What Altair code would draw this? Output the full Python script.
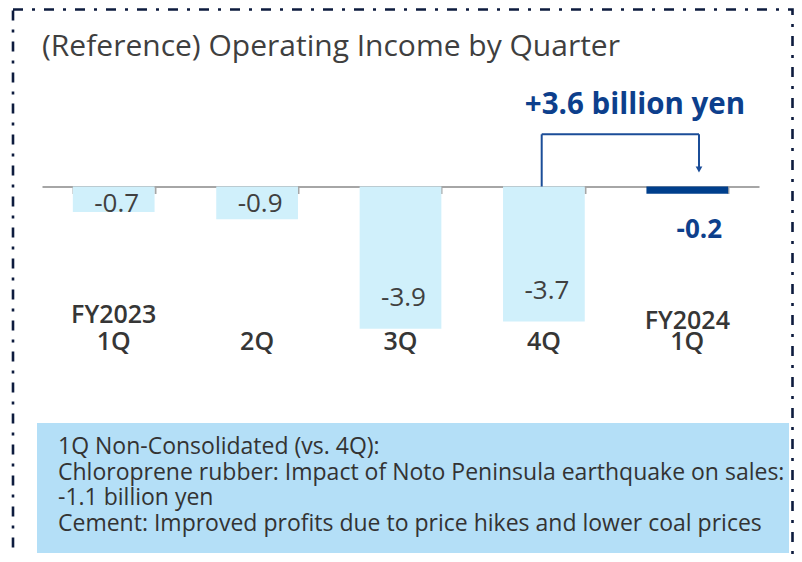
import altair as alt
import pandas as pd

# ---- data ----
keys = ["FY2023 1Q", "FY2023 2Q", "FY2023 3Q", "FY2023 4Q", "FY2024 1Q"]
quarters = ["1Q", "2Q", "3Q", "4Q", "1Q"]
fiscal_years = ["FY2023", "", "", "", "FY2024"]
values = [-0.7, -0.9, -3.9, -3.7, -0.2]
current_key = "FY2024 1Q"
title_text = "(Reference) Operating Income by Quarter"
change_text = "+3.6 billion yen"
note_lines = [
    "1Q Non-Consolidated (vs. 4Q):",
    "Chloroprene rubber: Impact of Noto Peninsula earthquake on sales:",
    "-1.1 billion yen",
    "Cement: Improved profits due to price hikes and lower coal prices",
]

# ---- styling / layout ----
FONT = "Open Sans"
W, H = 786, 546
AXIS_Y = 178.5
PX_PER_UNIT = 36.5
y_dom = [-(H - AXIS_Y) / PX_PER_UNIT, AXIS_Y / PX_PER_UNIT]
LIGHT = "#d0f0fb"
DARK = "#003f8c"
BLUE_TXT = "#0d3f8c"
GRAY_TXT = "#404040"
AXIS_C = "#a6a6a6"
BRACKET = "#1b4d98"
BOX = "#b4dff7"
BORDER = "#0d1b3e"

df = pd.DataFrame({
    "key": keys,
    "quarter": quarters,
    "fy": fiscal_years,
    "value": values,
    "label": [f"{v:.1f}" for v in values],
})

x_enc = alt.X(
    "key:N", sort=keys,
    scale=alt.Scale(range=[34, 751], paddingInner=0.43, paddingOuter=0.215),
    axis=alt.Axis(orient="bottom", offset=-(H - AXIS_Y), labels=False, title=None,
                  domainColor=AXIS_C, domainWidth=2, tickColor=AXIS_C, tickWidth=2,
                  tickSize=7, tickBand="extent", grid=False),
)
y_scale = alt.Scale(domain=y_dom, nice=False, zero=False)

base = alt.Chart(df)

bars = base.mark_bar().encode(
    x=x_enc,
    y=alt.Y("value:Q", scale=y_scale, axis=None),
    y2=alt.datum(0),
    color=alt.condition(alt.datum.key == current_key, alt.value(DARK), alt.value(LIGHT)),
)

light_labels = base.transform_filter(alt.datum.key != current_key).transform_calculate(
    ly="datum.value > -2 ? -0.49 : datum.value + 0.85"
).mark_text(font=FONT, fontSize=26, color=GRAY_TXT, baseline="middle", dx=3).encode(
    x=alt.X("key:N", sort=keys),
    y=alt.Y("ly:Q", scale=y_scale, axis=None),
    text="label:N",
)

dark_labels = base.transform_filter(alt.datum.key == current_key).transform_calculate(
    ly="datum.value - 1.0"
).mark_text(font=FONT, fontSize=26, fontWeight="bold", color=BLUE_TXT, baseline="middle", dx=12).encode(
    x=alt.X("key:N", sort=keys),
    y=alt.Y("ly:Q", scale=y_scale, axis=None),
    text="label:N",
)

quarter_labels = base.mark_text(font=FONT, fontSize=25, fontWeight=600, color="#363636",
                                baseline="middle").encode(
    x=alt.X("key:N", sort=keys),
    y=alt.value(334),
    text="quarter:N",
)

fy_labels = base.transform_filter(alt.datum.fy != "").transform_calculate(
    py="datum.key == '%s' ? 313 : 307" % current_key
).mark_text(font=FONT, fontSize=25, fontWeight=600, color="#363636", baseline="middle").encode(
    x=alt.X("key:N", sort=keys),
    y=alt.Y("py:Q", scale=None),
    text="fy:N",
)

one = alt.Chart(pd.DataFrame({"a": [0]}))

border = one.mark_rect(fill="white", fillOpacity=0, stroke=BORDER, strokeWidth=2.6,
                       strokeDash=[10, 9, 3, 9]).encode(
    x=alt.value(5), x2=alt.value(784.5), y=alt.value(1.5), y2=alt.value(H + 30)
)

title = one.mark_text(font=FONT, fontSize=30, color="#3f3f3f", align="left",
                      baseline="alphabetic").encode(
    x=alt.value(34), y=alt.value(48), text=alt.value(title_text)
)

change = one.mark_text(font=FONT, fontSize=29.5, fontWeight="bold", color=BLUE_TXT,
                       align="center", baseline="alphabetic").encode(
    x=alt.value(627), y=alt.value(106), text=alt.value(change_text)
)

br1 = one.mark_rule(color=BRACKET, strokeWidth=2).encode(
    x=alt.value(533.7), y=alt.value(126.3), y2=alt.value(AXIS_Y))
br2 = one.mark_rule(color=BRACKET, strokeWidth=2).encode(
    x=alt.value(533.7), x2=alt.value(691), y=alt.value(126.3))
br3 = one.mark_rule(color=BRACKET, strokeWidth=2).encode(
    x=alt.value(691), y=alt.value(126.3), y2=alt.value(159))
arrow = one.mark_point(shape="triangle-down", filled=True, size=45, color=BRACKET,
                       opacity=1).encode(x=alt.value(691), y=alt.value(161.5))

box = one.mark_rect(color=BOX).encode(
    x=alt.value(29), x2=alt.value(781), y=alt.value(415), y2=alt.value(545)
)

note_layers = []
for i, line in enumerate(note_lines):
    note_layers.append(
        one.mark_text(font=FONT, fontSize=23, color="#333333", align="left",
                      baseline="middle").encode(
            x=alt.value(50), y=alt.value(439 + i * 25.5), text=alt.value(line)
        )
    )

chart = alt.layer(
    bars, light_labels, dark_labels, quarter_labels, fy_labels,
    border, title, change, br1, br2, br3, arrow, box, *note_layers
).properties(
    width=W, height=H, padding=0, autosize=alt.AutoSizeParams(type="none"),
    background="white",
).configure_view(stroke=None)

chart.save("out.html", embed_options={"renderer": "svg", "actions": False})
